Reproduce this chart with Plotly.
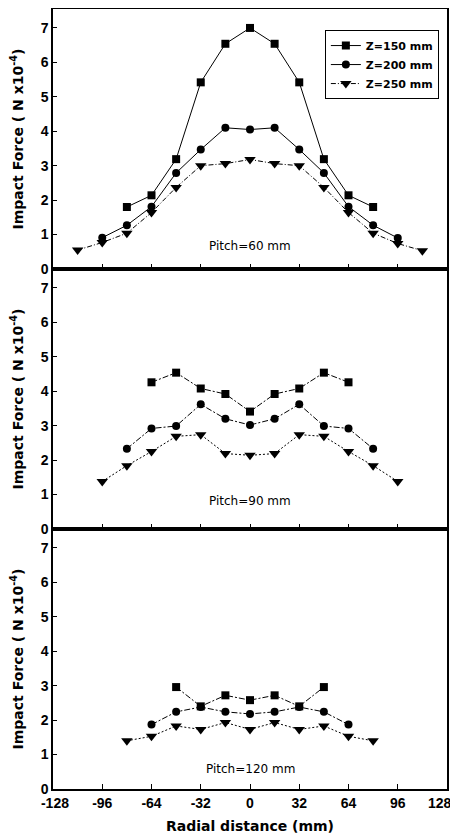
import plotly.graph_objects as go
from plotly.subplots import make_subplots

# ---- data ----
series_names = ["Z=150 mm", "Z=200 mm", "Z=250 mm"]
pitch_labels = ["Pitch=60 mm", "Pitch=90 mm", "Pitch=120 mm"]

# Pitch = 60 mm
p60_x150 = [-80, -64, -48, -32, -16, 0, 16, 32, 48, 64, 80]
p60_y150 = [1.80, 2.14, 3.19, 5.42, 6.54, 7.00, 6.54, 5.42, 3.19, 2.14, 1.80]
p60_x200 = [-96, -80, -64, -48, -32, -16, 0, 16, 32, 48, 64, 80, 96]
p60_y200 = [0.91, 1.27, 1.81, 2.79, 3.47, 4.10, 4.05, 4.10, 3.47, 2.79, 1.81, 1.27, 0.90]
p60_x250 = [-112, -96, -80, -64, -48, -32, -16, 0, 16, 32, 48, 64, 80, 96, 112]
p60_y250 = [0.55, 0.77, 1.04, 1.64, 2.37, 3.00, 3.06, 3.18, 3.06, 3.00, 2.37, 1.64, 1.04, 0.74, 0.53]

# Pitch = 90 mm
p90_x150 = [-64, -48, -32, -16, 0, 16, 32, 48, 64]
p90_y150 = [4.26, 4.54, 4.08, 3.92, 3.41, 3.92, 4.08, 4.54, 4.26]
p90_x200 = [-80, -64, -48, -32, -16, 0, 16, 32, 48, 64, 80]
p90_y200 = [2.33, 2.92, 2.99, 3.62, 3.20, 3.02, 3.20, 3.62, 2.99, 2.92, 2.33]
p90_x250 = [-96, -80, -64, -48, -32, -16, 0, 16, 32, 48, 64, 80, 96]
p90_y250 = [1.38, 1.84, 2.25, 2.69, 2.74, 2.19, 2.14, 2.19, 2.74, 2.69, 2.25, 1.84, 1.38]

# Pitch = 120 mm
p120_x150 = [-48, -32, -16, 0, 16, 32, 48]
p120_y150 = [2.96, 2.40, 2.72, 2.58, 2.72, 2.40, 2.96]
p120_x200 = [-64, -48, -32, -16, 0, 16, 32, 48, 64]
p120_y200 = [1.87, 2.24, 2.38, 2.24, 2.18, 2.24, 2.38, 2.24, 1.87]
p120_x250 = [-80, -64, -48, -32, -16, 0, 16, 32, 48, 64, 80]
p120_y250 = [1.40, 1.53, 1.83, 1.73, 1.93, 1.73, 1.93, 1.73, 1.83, 1.53, 1.40]

x_ticks = [-128, -96, -64, -32, 0, 32, 64, 96, 128]
x_ticktext = ["\u00a0-128", "-96", "-64", "-32", "0", "32", "64", "96", ""]
last_tick_label = "128"
y_ticks = [0, 1, 2, 3, 4, 5, 6, 7]

panels = [
    [(p60_x150, p60_y150), (p60_x200, p60_y200), (p60_x250, p60_y250)],
    [(p90_x150, p90_y150), (p90_x200, p90_y200), (p90_x250, p90_y250)],
    [(p120_x150, p120_y150), (p120_x200, p120_y200), (p120_x250, p120_y250)],
]
label_y = [0.68, 0.82, 0.58]

symbols = ["square", "circle", "triangle-down"]
msizes = [8, 8, 10]
dashes_p1 = ["solid", "solid", "5px,2px,1px,2px"]
dashes_other = ["6px,2px,2px,2px", "6px,2px,2px,2px", "2px,2px"]

FONT = "Liberation Sans, Arial, sans-serif"
WIDE = "DejaVu Sans, sans-serif"
tickfont = dict(family=FONT, size=14, color="black", weight="bold")

fig = make_subplots(rows=3, cols=1, shared_xaxes=True, vertical_spacing=0)

for r, panel in enumerate(panels, start=1):
    for i, (xs, ys) in enumerate(panel):
        dash = dashes_p1[i] if r == 1 else dashes_other[i]
        fig.add_trace(
            go.Scatter(
                x=xs, y=ys, mode="lines+markers", name=series_names[i],
                showlegend=(r == 1),
                line=dict(color="black", width=1, dash=dash),
                marker=dict(symbol=symbols[i], size=msizes[i], color="black"),
            ),
            row=r, col=1,
        )
    fig.add_annotation(
        x=0, y=label_y[r - 1], xref=f"x{'' if r == 1 else r}", yref=f"y{'' if r == 1 else r}",
        text=pitch_labels[r - 1], showarrow=False,
        font=dict(family=WIDE, size=12, color="black"),
    )
    fig.update_yaxes(
        row=r, col=1, range=[0, 7.55], tickvals=y_ticks, automargin=False,
        ticks="inside", ticklen=4, tickcolor="black", tickwidth=1,
        showline=True, linecolor="black", linewidth=1.5, mirror=True,
        showgrid=False, zeroline=False,
        tickfont=tickfont,
        title=dict(text="Impact Force ( N x10<sup>-4</sup>)",
                   font=dict(family=WIDE, size=14, color="black", weight="bold"),
                   standoff=22),
    )
    fig.update_xaxes(
        row=r, col=1, range=[-128, 128], tickvals=x_ticks, ticktext=x_ticktext,
        automargin=False, ticklabeloverflow="allow",
        ticks="inside", ticklen=5, tickcolor="black", tickwidth=1,
        showline=True, linecolor="black", linewidth=1.5, mirror=True,
        showgrid=False, zeroline=False,
        tickfont=tickfont,
    )

# last x tick label, nudged inward so it stays inside the page
fig.add_annotation(
    x=x_ticks[-1], y=0, xref="x3", yref="y3 domain", yanchor="top",
    xanchor="right", xshift=7, yshift=-4,
    text=last_tick_label, showarrow=False, font=tickfont,
)

fig.update_xaxes(
    row=3, col=1,
    title=dict(text="Radial distance (mm)",
               font=dict(family=WIDE, size=14, color="black", weight="bold"),
               standoff=12),
)

fig.update_layout(
    width=450, height=832,
    margin=dict(l=45, r=11, t=1, b=51),
    paper_bgcolor="white", plot_bgcolor="white",
    font=dict(family=FONT, color="black"),
    legend=dict(
        x=0.69, y=0.973, xanchor="left", yanchor="top",
        bordercolor="black", borderwidth=1, bgcolor="white",
        font=dict(family=WIDE, size=11, color="black", weight="bold"),
        tracegroupgap=0, itemwidth=30,
    ),
)

fig.write_html("out.html")
